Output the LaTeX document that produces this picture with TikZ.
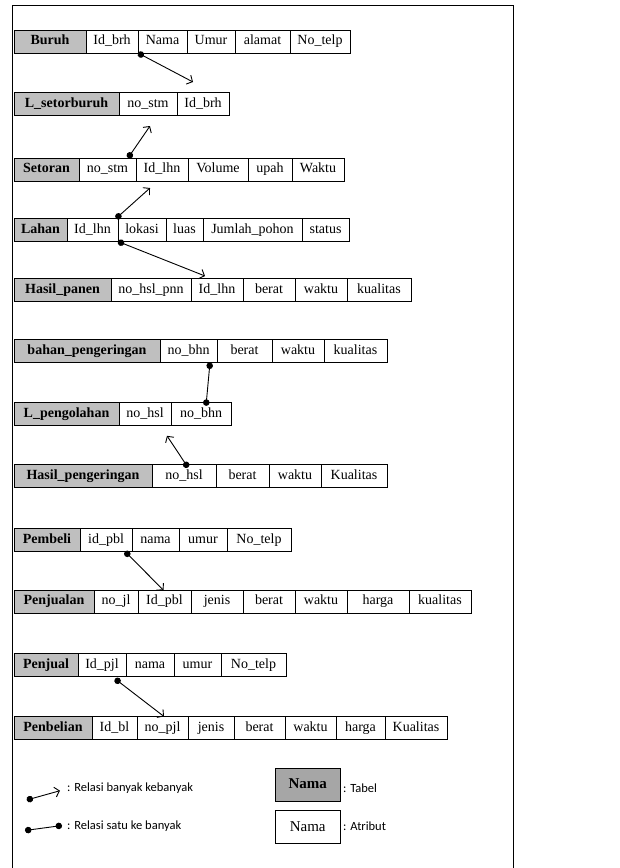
\documentclass[tikz,border=0pt]{standalone}
\usepackage{fontspec}
\setmainfont{Liberation Serif}
\newfontfamily\ketfont{Carlito}
\usetikzlibrary{positioning,arrows.meta}

\tikzset{
  tabel/.style={draw, fill=black!25, line width=0.9pt, minimum height=23,
    text height=9.5pt, text depth=3pt,
    inner sep=1pt, outer sep=0pt, font=\fontsize{14}{16}\selectfont\bfseries},
  atribut/.style={draw, fill=white, line width=0.9pt, minimum height=23,
    text height=9.5pt, text depth=3pt,
    inner sep=1pt, outer sep=0pt, font=\fontsize{14}{16}\selectfont},
  ket/.style={inner sep=1pt, anchor=west, font=\ketfont\fontsize{12.5}{14}\selectfont},
  banyak/.style={line width=0.9pt, {Circle[length=6.5pt]}-{Straight Barb[length=4.5pt,width=10pt]}},
  satu/.style={line width=0.9pt, {Circle[length=6.5pt]}-{Circle[length=6.5pt]}}
}

\begin{document}
\begin{tikzpicture}[x=1pt, y=-1pt]
		\useasboundingbox (0,0) rectangle (620,868);
		\draw[line width=0.8pt] (12,868) -- (12,5) -- (513,5) -- (513,868);
		
		% tabel
		\node [tabel, anchor=west, minimum width=72] (buruh-0) at (14,41.5) {Buruh};
		\foreach \f/\w [count=\i, remember=\i as \j (initially 0)] in {Id\_brh/52,Nama/49,Umur/48,alamat/55,No\_telp/60}
		\node [atribut, minimum width=\w, right=0pt of buruh-\j] (buruh-\i) {\f};
		
		\node [tabel, anchor=west, minimum width=105] (lsetor-0) at (14,104) {L\_setorburuh};
		\foreach \f/\w [count=\i, remember=\i as \j (initially 0)] in {no\_stm/58,Id\_brh/52}
		\node [atribut, minimum width=\w, right=0pt of lsetor-\j] (lsetor-\i) {\f};
		
		\node [tabel, anchor=west, minimum width=65] (setoran-0) at (14,169.5) {Setoran};
		\foreach \f/\w [count=\i, remember=\i as \j (initially 0)] in {no\_stm/57,Id\_lhn/52,Volume/60,upah/44,Waktu/52}
		\node [atribut, minimum width=\w, right=0pt of setoran-\j] (setoran-\i) {\f};
		
		\node [tabel, anchor=west, minimum width=53] (lahan-0) at (14,230) {Lahan};
		\foreach \f/\w [count=\i, remember=\i as \j (initially 0)] in {Id\_lhn/51,lokasi/48,luas/37,Jumlah\_pohon/99,status/47}
		\node [atribut, minimum width=\w, right=0pt of lahan-\j] (lahan-\i) {\f};
		
		\node [tabel, anchor=west, minimum width=97] (panen-0) at (14,290) {Hasil\_panen};
		\foreach \f/\w [count=\i, remember=\i as \j (initially 0)] in {no\_hsl\_pnn/80,Id\_lhn/52,berat/52,waktu/52,kualitas/64}
		\node [atribut, minimum width=\w, right=0pt of panen-\j] (panen-\i) {\f};
		
		\node [tabel, anchor=west, minimum width=146] (bahan-0) at (14,351) {bahan\_pengeringan};
		\foreach \f/\w [count=\i, remember=\i as \j (initially 0)] in {no\_bhn/57,berat/55,waktu/52,kualitas/63}
		\node [atribut, minimum width=\w, right=0pt of bahan-\j] (bahan-\i) {\f};
		
		\node [tabel, anchor=west, minimum width=105] (olah-0) at (14,414.3) {L\_pengolahan};
		\foreach \f/\w [count=\i, remember=\i as \j (initially 0)] in {no\_hsl/52,no\_bhn/60}
		\node [atribut, minimum width=\w, right=0pt of olah-\j] (olah-\i) {\f};
		
		\node [tabel, anchor=west, minimum width=138] (kering-0) at (14,476) {Hasil\_pengeringan};
		\foreach \f/\w [count=\i, remember=\i as \j (initially 0)] in {no\_hsl/64,berat/53,waktu/52,Kualitas/66}
		\node [atribut, minimum width=\w, right=0pt of kering-\j] (kering-\i) {\f};
		
		\node [tabel, anchor=west, minimum width=66] (pembeli-0) at (14,540) {Pembeli};
		\foreach \f/\w [count=\i, remember=\i as \j (initially 0)] in {id\_pbl/52,nama/47,umur/48,No\_telp/64}
		\node [atribut, minimum width=\w, right=0pt of pembeli-\j] (pembeli-\i) {\f};
		
		\node [tabel, anchor=west, minimum width=80] (jual-0) at (14,601.7) {Penjualan};
		\foreach \f/\w [count=\i, remember=\i as \j (initially 0)] in {no\_jl/44,Id\_pbl/53,jenis/52,berat/52,waktu/52,harga/62,kualitas/62}
		\node [atribut, minimum width=\w, right=0pt of jual-\j] (jual-\i) {\f};
		
		\node [tabel, anchor=west, minimum width=64] (penjual-0) at (14,665.3) {Penjual};
		\foreach \f/\w [count=\i, remember=\i as \j (initially 0)] in {Id\_pjl/48,nama/48,umur/47,No\_telp/65}
		\node [atribut, minimum width=\w, right=0pt of penjual-\j] (penjual-\i) {\f};
		
		\node [tabel, anchor=west, minimum width=78] (beli-0) at (14,728) {Penbelian};
		\foreach \f/\w [count=\i, remember=\i as \j (initially 0)] in {Id\_bl/45,no\_pjl/51,jenis/46,berat/51,waktu/51,harga/49,Kualitas/62}
		\node [atribut, minimum width=\w, right=0pt of beli-\j] (beli-\i) {\f};
		
		% relasi
		\draw [banyak] (buruh-1.south east) -- ([xshift=-10pt, yshift=10.5pt]lsetor-2.north);
		\draw [banyak] ([xshift=-8pt]setoran-1.north east) -- ([xshift=2pt, yshift=-10.5pt]lsetor-1.south);
		\draw [banyak] ([xshift=-2pt]lahan-1.north east) -- ([xshift=-12pt, yshift=-7pt]setoran-2.south);
		\draw [banyak] (lahan-1.south east) -- ([xshift=-12pt, yshift=2.5pt]panen-2.north);
		\draw [satu] ([xshift=-7pt]bahan-1.south east) -- ([xshift=5pt, yshift=-3pt]olah-2.north);
		\draw [banyak] ([xshift=4pt, yshift=-3pt]kering-1.north) -- ([xshift=-4pt, yshift=-10pt]olah-1.south east);
		\draw [banyak] ([xshift=-7pt]pembeli-1.south east) -- ([xshift=-1pt]jual-2.north);
		\draw [banyak] ([xshift=-11pt, yshift=-2pt]penjual-1.south east) -- ([xshift=1.5pt]beli-2.north);
		
		% keterangan
		\coordinate (mm-a) at (26.7,800);
		\coordinate (mm-b) at (60,790.7);
		\coordinate (om-a) at (25,830.5);
		\coordinate (om-b) at (62,825.5);
		\draw [banyak] (mm-a) -- (mm-b);
		\draw [satu] (om-a) -- (om-b);
		\node [ket] (ket-mm) at (66,788) {: Relasi banyak kebanyak};
		\node [ket] (ket-om) at (66,826) {: Relasi satu ke banyak};
		
		\node [tabel, minimum width=65, minimum height=33, text height=10.5pt, fill=black!35, font=\fontsize{15}{18}\selectfont\bfseries] (lg-tabel) at (307.7,784.7) {Nama};
		\node [atribut, minimum width=65, minimum height=33, text height=10.5pt, font=\fontsize{15}{18}\selectfont] (lg-atribut) at (307.7,827.3) {Nama};
		\node [ket] (ket-tabel) at (342,788) {: Tabel};
		\node [ket] (ket-atribut) at (342,826) {: Atribut};
		
		\end{tikzpicture}
\end{document}
